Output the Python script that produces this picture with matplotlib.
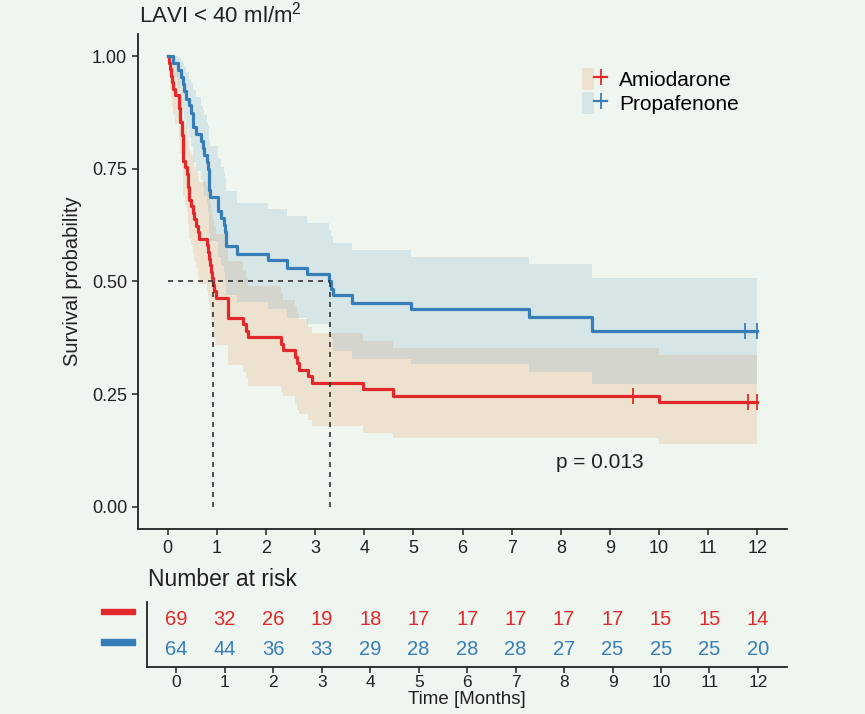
import numpy as np
import matplotlib.pyplot as plt
from matplotlib.patches import Patch, Rectangle
from matplotlib.lines import Line2D
from matplotlib.legend_handler import HandlerTuple

plt.rcParams['font.family'] = ['Liberation Sans', 'DejaVu Sans']
plt.rcParams['mathtext.default'] = 'regular'

# Kaplan-Meier curves (time in months, survival)
amio_t = [0, 0.03, 0.05, 0.07, 0.09, 0.11, 0.14, 0.22, 0.23, 0.24, 0.25, 0.29, 0.30, 0.31,
          0.36, 0.39, 0.41, 0.43, 0.48, 0.51, 0.54, 0.58, 0.61, 0.63, 0.79, 0.81, 0.83, 0.85,
          0.88, 0.90, 0.92, 0.95, 0.99, 1.22, 1.53, 1.60, 1.64, 2.31, 2.35, 2.58, 2.63, 2.68,
          2.85, 2.94, 3.97, 4.58, 10.01, 12.0]
amio_s = [1.000, 0.986, 0.971, 0.957, 0.942, 0.928, 0.913, 0.899, 0.884, 0.870, 0.855, 0.826,
          0.797, 0.768, 0.754, 0.739, 0.710, 0.681, 0.667, 0.652, 0.638, 0.623, 0.609, 0.594,
          0.580, 0.565, 0.551, 0.536, 0.522, 0.507, 0.493, 0.478, 0.464, 0.420, 0.406, 0.391,
          0.377, 0.362, 0.348, 0.333, 0.319, 0.304, 0.290, 0.275, 0.261, 0.246, 0.232, 0.232]
amio_hi = [1.0, 1.0, 1.0, 0.99, 0.985, 0.975, 0.965, 0.955, 0.945, 0.935, 0.925, 0.905, 0.88,
           0.86, 0.85, 0.84, 0.815, 0.79, 0.78, 0.77, 0.755, 0.745, 0.735, 0.72, 0.71, 0.70,
           0.685, 0.675, 0.66, 0.65, 0.635, 0.62, 0.605, 0.545, 0.525, 0.51, 0.49, 0.475, 0.46,
           0.445, 0.43, 0.416, 0.40, 0.386, 0.368, 0.353, 0.336, 0.336]
amio_lo = [1.0, 0.958, 0.93, 0.91, 0.89, 0.87, 0.85, 0.83, 0.815, 0.80, 0.785, 0.75, 0.72,
           0.69, 0.67, 0.655, 0.625, 0.595, 0.58, 0.56, 0.545, 0.53, 0.51, 0.495, 0.48, 0.465,
           0.455, 0.44, 0.42, 0.405, 0.39, 0.375, 0.36, 0.315, 0.30, 0.285, 0.268, 0.255, 0.245,
           0.228, 0.215, 0.205, 0.192, 0.18, 0.164, 0.153, 0.140, 0.140]

prop_t = [0, 0.10, 0.20, 0.27, 0.31, 0.34, 0.37, 0.43, 0.48, 0.51, 0.58, 0.68, 0.71, 0.73,
          0.80, 0.81, 0.83, 0.84, 0.85, 1.02, 1.09, 1.15, 1.17, 1.18, 1.19, 1.41, 2.04, 2.42,
          2.83, 3.28, 3.32, 3.36, 3.76, 4.96, 7.35, 8.63, 12.0]
prop_s = [1.000, 0.984, 0.969, 0.953, 0.938, 0.922, 0.906, 0.891, 0.875, 0.844, 0.828, 0.812,
          0.797, 0.781, 0.766, 0.750, 0.719, 0.703, 0.688, 0.656, 0.641, 0.625, 0.609, 0.594,
          0.578, 0.562, 0.547, 0.531, 0.516, 0.500, 0.484, 0.469, 0.453, 0.438, 0.422, 0.391,
          0.391]
prop_hi = [1.0, 1.0, 0.995, 0.99, 0.985, 0.975, 0.965, 0.95, 0.94, 0.925, 0.91, 0.89,
           0.88, 0.87, 0.855, 0.845, 0.83, 0.815, 0.80, 0.775, 0.755, 0.74, 0.73, 0.72, 0.70,
           0.675, 0.660, 0.645, 0.630, 0.615, 0.600, 0.586, 0.569, 0.555, 0.539, 0.507, 0.507]
prop_lo = [1.0, 0.954, 0.93, 0.90, 0.88, 0.86, 0.84, 0.82, 0.80, 0.765, 0.745, 0.725, 0.71,
           0.69, 0.675, 0.655, 0.625, 0.605, 0.59, 0.555, 0.535, 0.52, 0.50, 0.485, 0.47,
           0.455, 0.44, 0.42, 0.405, 0.39, 0.372, 0.345, 0.328, 0.316, 0.300, 0.273, 0.273]

amio_cens = [9.47, 11.81, 12.0]
prop_cens = [11.75, 12.0]
medians = [0.92, 3.30]

risk_times = list(range(13))
risk_amio = [69, 32, 26, 19, 18, 17, 17, 17, 17, 17, 15, 15, 14]
risk_prop = [64, 44, 36, 33, 29, 28, 28, 28, 27, 25, 25, 25, 20]

bg = '#EFF5EF'
red = '#E2282B'
blue = '#377EB8'
red_band = '#E89A58'
blue_band = '#4A90B8'
ink = '#222222'

fig = plt.figure(figsize=(8.65, 7.14), dpi=100, facecolor=bg)
ax = fig.add_axes([0.1599, 0.2587, 0.7496, 0.6941])
ax.set_facecolor(bg)

ax.fill_between(amio_t, amio_lo, amio_hi, step='post', color=red_band, alpha=0.2, lw=0)
ax.fill_between(prop_t, prop_lo, prop_hi, step='post', color=blue_band, alpha=0.15, lw=0)
ax.step(amio_t, amio_s, where='post', color=red, lw=2.3)
ax.step(prop_t, prop_s, where='post', color=blue, lw=2.3)


def at(ts, ss, x):
    i = np.searchsorted(ts, x, side='right') - 1
    return np.array(ss)[i]


ax.plot(amio_cens, at(amio_t, amio_s, amio_cens), ls='none', marker='|', ms=11, mew=1.3, color=red)
ax.plot(prop_cens, at(prop_t, prop_s, prop_cens), ls='none', marker='|', ms=11, mew=1.3, color=blue)

# median lines
ax.plot([0, max(medians)], [0.5, 0.5], ls=(0, (3, 3)), color='#333333', lw=1.2)
for m in medians:
    ax.plot([m, m], [0, 0.5], ls=(0, (3, 3)), color='#333333', lw=1.2)

ax.set_xlim(-0.6, 12.6)
ax.set_ylim(-0.05, 1.05)
ax.set_xticks(risk_times)
ax.set_yticks([0, 0.25, 0.5, 0.75, 1.0])
ax.set_yticklabels(['0.00', '0.25', '0.50', '0.75', '1.00'])
for s in ['top', 'right']:
    ax.spines[s].set_visible(False)
for s in ['left', 'bottom']:
    ax.spines[s].set_linewidth(1.3)
    ax.spines[s].set_color(ink)
ax.tick_params(length=4, width=1.1, labelsize=13, colors=ink, pad=4)
ax.set_ylabel('Survival probability', fontsize=14.5, color=ink)
ax.yaxis.set_label_coords(-0.087, 0.5)

ax.text(7.9, 0.098, 'p = 0.013', fontsize=15, va='center', color=ink)

handles = [(Patch(facecolor=red_band, alpha=0.2, lw=0),
            Line2D([], [], color=red, lw=1.6, marker='|', ms=12, mew=1.3)),
           (Patch(facecolor=blue_band, alpha=0.15, lw=0),
            Line2D([], [], color=blue, lw=1.6, marker='|', ms=12, mew=1.3))]
ax.legend(handles, ['Amiodarone', 'Propafenone'], handler_map={tuple: HandlerTuple(ndivide=None)},
          loc='upper left', bbox_to_anchor=(0.684, 0.93), frameon=False, fontsize=15,
          handlelength=1.2, handleheight=1.2, labelspacing=0.1, handletextpad=0.6,
          borderpad=0, borderaxespad=0)

fig.text(0.161, 0.980, 'LAVI < 40 ml/m$^2$', fontsize=16, va='center', color=ink)

# number at risk table
rt = fig.add_axes([0.1703, 0.0658, 0.7395, 0.0915])
rt.set_facecolor(bg)
for t, a, p in zip(risk_times, risk_amio, risk_prop):
    rt.text(t, 2, str(a), color=red, ha='center', va='center', fontsize=14.5)
    rt.text(t, 1, str(p), color=blue, ha='center', va='center', fontsize=14.5)
rt.set_xlim(-0.6, 12.6)
rt.set_ylim(0.4, 2.6)
rt.set_xticks(risk_times)
rt.set_yticks([])
for s in ['top', 'right']:
    rt.spines[s].set_visible(False)
for s in ['left', 'bottom']:
    rt.spines[s].set_linewidth(1.3)
    rt.spines[s].set_color(ink)
rt.tick_params(axis='x', length=4, width=1.1, labelsize=12.5, colors=ink, pad=2)
rt.set_xlabel('Time [Months]', fontsize=13.5, color=ink)
rt.xaxis.set_label_coords(0.5, -0.37)

fig.text(0.171, 1 - 580 / 714, 'Number at risk', fontsize=16.5, va='center', color=ink)
fig.add_artist(Rectangle((100.7 / 865, 1 - 614 / 714), 34.3 / 865, 5.5 / 714,
                         transform=fig.transFigure, color=red))
fig.add_artist(Rectangle((100.7 / 865, 1 - 644.5 / 714), 34.3 / 865, 5.5 / 714,
                         transform=fig.transFigure, color=blue))

fig.savefig('out.png', dpi=100, facecolor=bg)
